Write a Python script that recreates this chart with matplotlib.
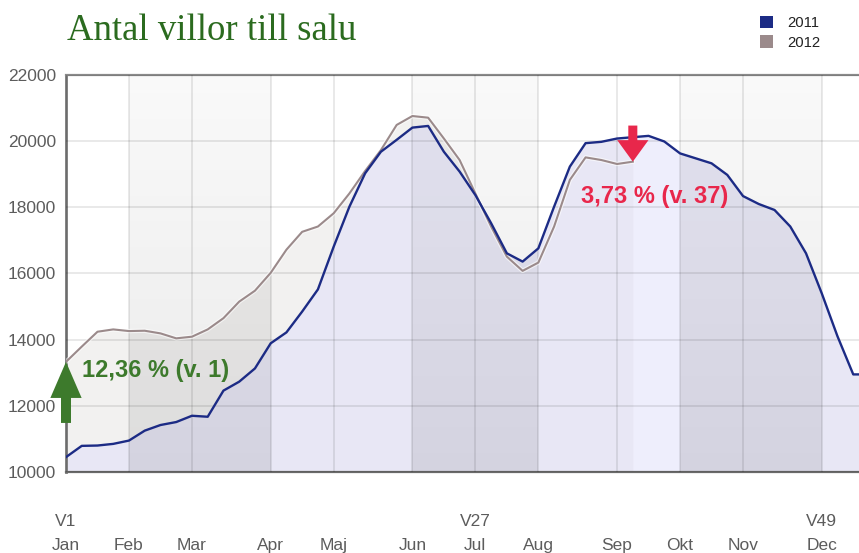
import matplotlib
matplotlib.use('Agg')
import matplotlib.pyplot as plt
import matplotlib.patheffects as pe
from matplotlib.patches import Patch
import numpy as np

# Antal villor till salu per vecka
weeks_2011 = list(range(1, 53))
villor_2011 = [10450, 10790, 10800, 10850, 10950, 11250, 11420, 11510, 11700, 11670,
               12460, 12730, 13130, 13890, 14220, 14850, 15520, 16810, 18020, 19030,
               19680, 20040, 20410, 20460, 19680, 19080, 18370, 17520, 16610, 16360,
               16760, 18020, 19230, 19940, 19980, 20080, 20120, 20160, 19990, 19630,
               19480, 19330, 18980, 18340, 18100, 17920, 17420, 16610, 15400, 14100,
               12950, 12950]

weeks_2012 = list(range(1, 38))
villor_2012 = [13330, 13790, 14240, 14310, 14260, 14270, 14190, 14040, 14090, 14310,
               14650, 15150, 15480, 16020, 16720, 17260, 17420, 17820, 18420, 19100,
               19730, 20490, 20760, 20710, 20080, 19430, 18420, 17420, 16510, 16080,
               16330, 17420, 18830, 19510, 19430, 19310, 19380]

month_weeks = [1, 5, 9, 14, 18, 23, 27, 31, 36, 40, 44, 49]
month_labels = ['Jan', 'Feb', 'Mar', 'Apr', 'Maj', 'Jun', 'Jul', 'Aug', 'Sep', 'Okt', 'Nov', 'Dec']
week_marks = {1: 'V1', 27: 'V27', 49: 'V49'}
y_ticks = [10000, 12000, 14000, 16000, 18000, 20000, 22000]

up_label = '12,36 % (v. 1)'
down_label = '3,73 % (v. 37)'
down_week = 37

BLUE = '#1c2b85'
GRAY = '#9b8a8b'
TXT = '#5c5c5c'

plt.rcParams['font.family'] = ['Liberation Sans', 'DejaVu Sans']

fig = plt.figure(figsize=(8.59, 5.53), dpi=100, facecolor='white')
# plot area runs past the right edge, as in the original
ax = fig.add_axes([66 / 859, 81 / 553, 803 / 859, 397 / 553])
ax.set_facecolor('white')

# fills under the curves
ax.fill_between(weeks_2012, 10000, villor_2012, color='#f2f1f0', zorder=1, lw=0)
ax.fill_between(weeks_2011, 10000, villor_2011, color='#e8e7f5', zorder=1.1, lw=0)
# highlighted weeks after v. 37
i0, i1 = down_week - 1, month_weeks[9]
ax.fill_between(weeks_2011[i0:i1], 10000, villor_2011[i0:i1], color='#eeeefc', zorder=1.2, lw=0)

# darker month bands (Feb-Mar, Jun-Jul, Okt-Nov) with a soft vertical gradient
grad = np.zeros((100, 1, 4))
grad[:, 0, 3] = np.linspace(0.085, 0.025, 100)
for a, b in [(1, 3), (5, 7), (9, 11)]:
    ax.imshow(grad, extent=(month_weeks[a], month_weeks[b], 10000, 22000),
              origin='lower', aspect='auto', zorder=1.5, interpolation='bilinear')

# grid
ax.set_axisbelow(False)
ax.grid(True, color='black', alpha=0.11, lw=1.1)

# lines
ax.plot(weeks_2012, villor_2012, color=GRAY, lw=1.5, zorder=3,
        path_effects=[pe.Stroke(linewidth=3.2, foreground='white', alpha=0.6), pe.Normal()])
ax.plot(weeks_2011, villor_2011, color=BLUE, lw=1.7, zorder=4, solid_joinstyle='round')

# arrows + labels
ax.annotate('', xy=(1, villor_2012[0]), xytext=(0, -44), textcoords='offset points',
            arrowprops=dict(facecolor='#3d7a2c', edgecolor='none', width=7.2,
                            headwidth=22.5, headlength=26, shrink=0), zorder=6,
            annotation_clip=False)
ax.annotate(up_label, xy=(1, villor_2012[0]), xytext=(11.5, -6), textcoords='offset points',
            ha='left', va='center', fontsize=17, fontweight='bold', color='#3d7a2c', zorder=7)

ax.annotate('', xy=(down_week, villor_2012[down_week - 1]), xytext=(0, 26),
            textcoords='offset points',
            arrowprops=dict(facecolor='#e8274b', edgecolor='none', width=6.5,
                            headwidth=22.5, headlength=15.5, shrink=0), zorder=6)
ax.annotate(down_label, xy=(down_week, villor_2012[down_week - 1]), xytext=(16, -25),
            textcoords='offset points', ha='center', va='center', fontsize=17,
            fontweight='bold', color='#e8274b', zorder=7)

# axes
ax.set_xlim(1, 52)
ax.set_ylim(10000, 22000)
ax.set_yticks(y_ticks)
ax.set_yticklabels([str(v) for v in y_ticks])
ax.set_xticks(month_weeks)
ax.set_xticklabels([week_marks.get(w, '') + '\n' + m for w, m in zip(month_weeks, month_labels)],
                   linespacing=1.8)
ax.tick_params(axis='both', length=0, labelsize=12.5, labelcolor=TXT)
ax.tick_params(axis='y', pad=7)
ax.tick_params(axis='x', pad=30)

ax.spines['right'].set_visible(False)
ax.spines['left'].set_color('#777777')
ax.spines['left'].set_linewidth(2.0)
ax.spines['top'].set_color('#8a8a8a')
ax.spines['top'].set_linewidth(1.6)
ax.spines['bottom'].set_color('#6a6a6a')
ax.spines['bottom'].set_linewidth(1.6)

# title and legend
fig.text(67 / 859, 1 - 40 / 553, 'Antal villor till salu', family='Liberation Serif',
         fontsize=26.5, color='#2b6b1f', ha='left', va='baseline')
handles = [Patch(facecolor=BLUE, edgecolor='none', label='2011'),
           Patch(facecolor=GRAY, edgecolor='none', label='2012')]
fig.legend(handles=handles, loc='upper left', bbox_to_anchor=(760 / 859, 1 - 16 / 553),
           frameon=False, fontsize=10.7, handlelength=0.9, handleheight=0.9,
           handletextpad=0.95, labelspacing=0.35, borderpad=0, borderaxespad=0,
           labelcolor='#222222')

plt.savefig('out.png', dpi=100, facecolor='white')
plt.close()
